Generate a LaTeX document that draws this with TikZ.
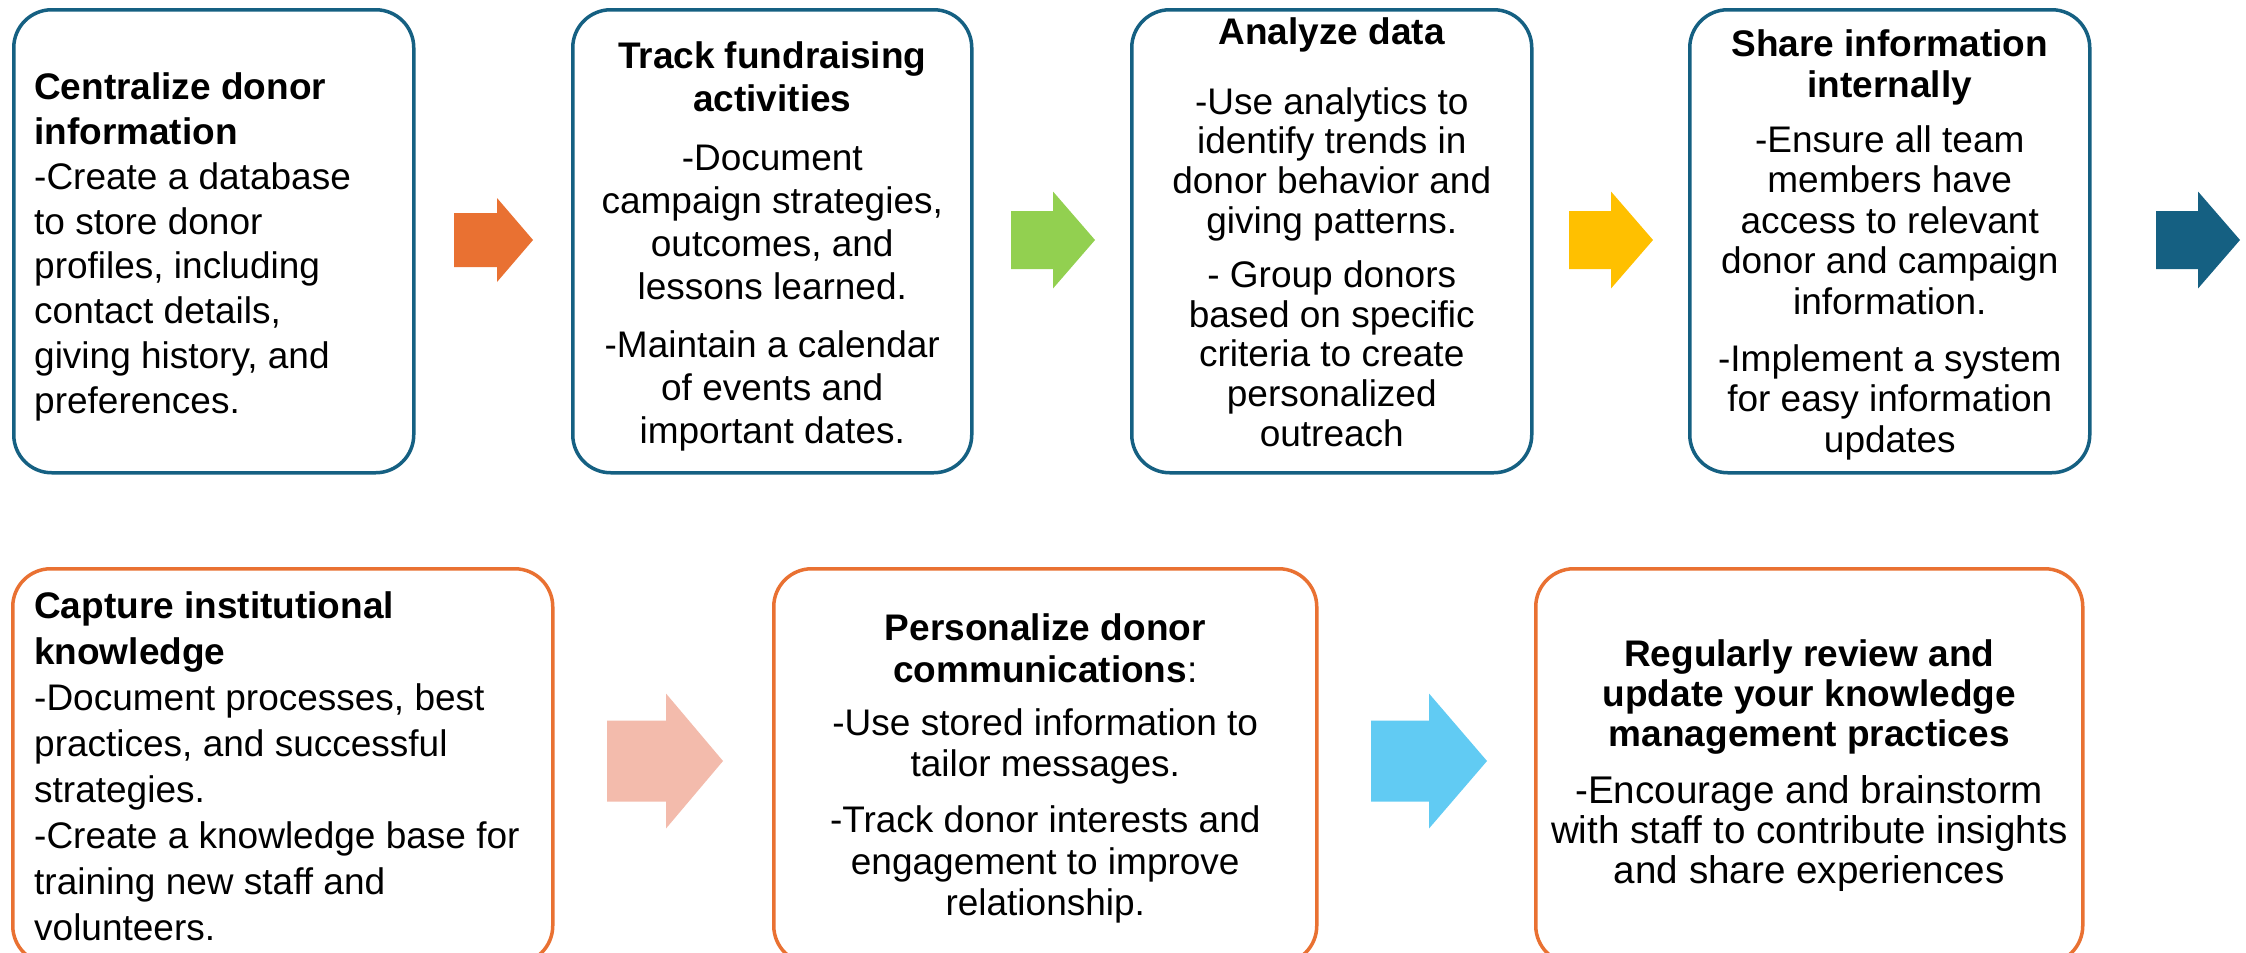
\documentclass[tikz,border=0pt]{standalone}
\usepackage{fontspec}
\setmainfont{Liberation Sans}
\definecolor{deepteal}{HTML}{156082}
\definecolor{rust}{HTML}{E97132}
\definecolor{leaf}{HTML}{92D050}
\definecolor{amber}{HTML}{FFC000}
\definecolor{blush}{HTML}{F3BBAC}
\definecolor{sky}{HTML}{61CBF3}
\tikzset{
  card/.style={draw=#1, line width=3.5pt, rounded corners=38pt, inner sep=0pt,
    anchor=north west, fill=white},
  body/.style={inner sep=0pt, text=black, font=\fontsize{37}{#1}\selectfont},
  pics/blockarrow/.style n args={6}{code={
    \fill[#1] (#2,-#5) -- (#3,-#5) -- (#3,-#6) -- (#4,0) -- (#3,#6) -- (#3,#5) -- (#2,#5) -- cycle;
  }}
}
\newcommand{\firstline}{\rule{0pt}{30pt}}
\newcommand{\widerline}[1]{{\fontsize{38.6}{40}\selectfont #1}}
\begin{document}
\begin{tikzpicture}[x=1pt,y=-1pt]
\useasboundingbox (0,0) rectangle (2246,953);
\fill[white] (0,0) rectangle (2246,953);

% top row of cards
\node[card=deepteal, minimum width=400pt, minimum height=463pt] (b1) at (12,8) {};
\node[card=deepteal, minimum width=399pt, minimum height=463pt] (b2) at (571,8) {};
\node[card=deepteal, minimum width=400pt, minimum height=463pt] (b3) at (1130,8) {};
\node[card=deepteal, minimum width=400pt, minimum height=463pt] (b4) at (1688,8) {};

% bottom row of cards
\node[card=rust, minimum width=540pt, minimum height=395pt] (b5) at (11,567) {};
\node[card=rust, minimum width=543pt, minimum height=395pt] (b6) at (772,567) {};
\node[card=rust, minimum width=547pt, minimum height=395pt] (b7) at (1534,567) {};

% card texts
\node[body=44.8pt, align=left, anchor=north west] (t1) at ([xshift=22pt,yshift=-61.5pt]b1.north west)
  {\firstline\textbf{Centralize donor}\\\textbf{information}\\-Create a database\\to store donor\\profiles, including\\contact details,\\giving history, and\\preferences.};

\node[body=43pt, align=center, anchor=north] (t2) at ([yshift=-30.5pt]b2.north)
  {\firstline\textbf{Track fundraising}\\\textbf{activities}\\[16pt]-Document\\campaign strategies,\\outcomes, and\\lessons learned.\\[15pt]-Maintain a calendar\\of events and\\important dates.};

\node[body=39.7pt, align=center, anchor=north] (t3) at ([yshift=-6pt]b3.north)
  {\firstline\textbf{Analyze data}\\[30.3pt]-Use analytics to\\identify trends in\\donor behavior and\\giving patterns.\\[14.5pt]- Group donors\\based on specific\\criteria to create\\personalized\\outreach};

\node[body=40.5pt, align=center, anchor=north] (t4) at ([yshift=-18.5pt]b4.north)
  {\firstline\textbf{Share information}\\\textbf{internally}\\[14.5pt]-Ensure all team\\members have\\access to relevant\\donor and campaign\\information.\\[16.5pt]-Implement a system\\for easy information\\updates};

\node[body=46pt, align=left, anchor=north west] (t5) at ([xshift=23pt,yshift=-21.5pt]b5.north west)
  {\firstline\textbf{Capture institutional}\\\textbf{knowledge}\\-Document processes, best\\practices, and successful\\strategies.\\-Create a knowledge base for\\training new staff and\\volunteers.};

\node[body=41.5pt, align=center, anchor=north] (t6) at ([yshift=-43.3pt]b6.north)
  {\firstline\textbf{Personalize donor}\\\textbf{communications}:\\[11.5pt]-Use stored information to\\tailor messages.\\[14.5pt]-Track donor interests and\\engagement to improve\\relationship.};

\node[body=40pt, align=center, anchor=north] (t7) at ([yshift=-69.5pt]b7.north)
  {\firstline\textbf{Regularly review and}\\\textbf{update your knowledge}\\\textbf{management practices}\\[16.5pt]\widerline{-Encourage and brainstorm}\\\widerline{with staff to contribute insights}\\\widerline{and share experiences}};

% block arrows between the cards
\coordinate (a1) at (493.5,240);
\coordinate (a2) at (1053,240);
\coordinate (a3) at (1611,240);
\coordinate (a4) at (2198,240);
\coordinate (a5) at (666,761);
\coordinate (a6) at (1429,761);
\pic at (a1) {blockarrow={rust}{-39.5}{3.5}{39.5}{27}{42}};
\pic at (a2) {blockarrow={leaf}{-42}{0}{42}{29}{48.5}};
\pic at (a3) {blockarrow={amber}{-42}{0}{42}{29}{48.5}};
\pic at (a4) {blockarrow={deepteal}{-42}{0}{42}{29}{48.5}};
\pic at (a5) {blockarrow={blush}{-59}{0}{57}{40.5}{67.5}};
\pic at (a6) {blockarrow={sky}{-58}{0}{58}{40.5}{67.5}};
\end{tikzpicture}
\end{document}
